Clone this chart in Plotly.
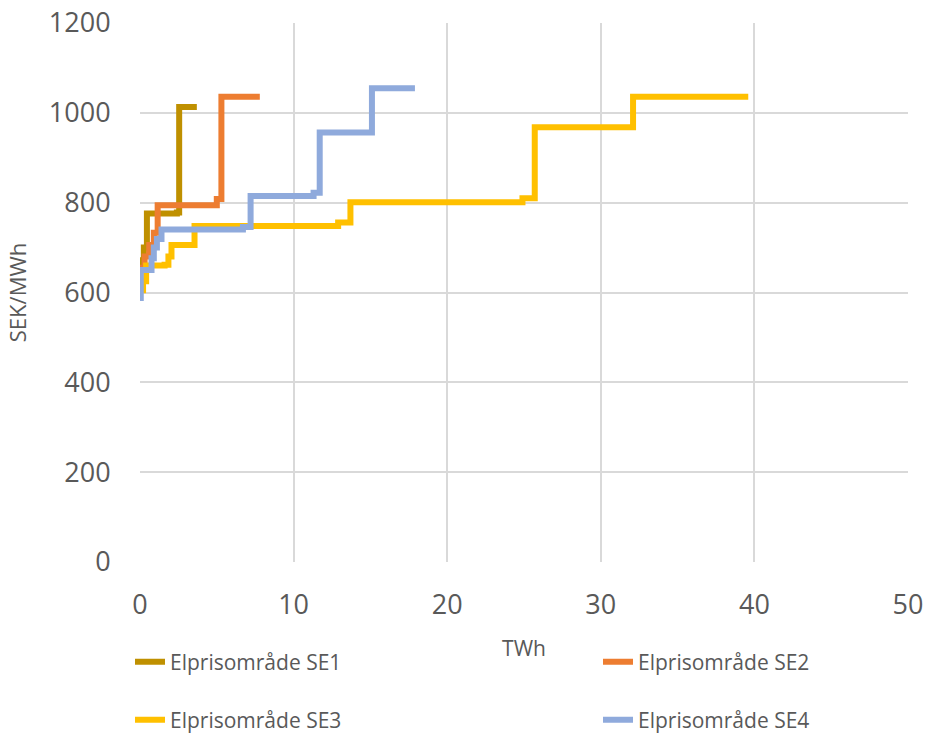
import plotly.graph_objects as go

# Step curves (x = TWh at start of each price step, y = SEK/MWh)
se1_x = [0.0, 0.1, 0.25, 0.45, 2.4, 2.55, 3.7]
se1_y = [650, 672, 700, 776, 778, 1013, 1013]

se2_x = [0.0, 0.3, 0.6, 0.9, 1.15, 5.0, 5.3, 7.8]
se2_y = [655, 680, 706, 733, 794, 808, 1036, 1036]

se3_x = [0.1, 0.2, 0.4, 1.6, 1.85, 2.05, 3.4, 3.55, 12.9, 13.7, 24.9, 25.7, 32.1, 39.6]
se3_y = [605, 625, 660, 662, 680, 706, 706, 748, 756, 801, 810, 968, 1036, 1036]

se4_x = [0.0, 0.05, 0.75, 0.9, 1.1, 1.4, 6.7, 7.2, 11.3, 11.7, 15.1, 17.9]
se4_y = [588, 650, 676, 700, 719, 740, 746, 815, 822, 956, 1055, 1055]

names = ["Elprisområde SE1", "Elprisområde SE2", "Elprisområde SE3", "Elprisområde SE4"]
colors = ["#BF9000", "#ED7D31", "#FFC000", "#8FAADC"]

x_ticks = [0, 10, 20, 30, 40, 50]
y_ticks = [0, 200, 400, 600, 800, 1000, 1200]

FONT = "Open Sans"
fig = go.Figure()
series = [(se1_x, se1_y), (se2_x, se2_y), (se3_x, se3_y), (se4_x, se4_y)]
legends = ["legend", "legend2", "legend3", "legend4"]
for (xs, ys), nm, c, lg in zip(series, names, colors, legends):
    fig.add_trace(go.Scatter(x=xs, y=ys, mode="lines", name=nm, line=dict(color=c, width=6, shape="hv"),
                             legend=lg))

# body margin removed via post_script, so figure coords == page coords
FIG_W, FIG_H = 926, 733
PLOT_L, PLOT_R, PLOT_T, PLOT_B = 140, 908, 23, 562
W = PLOT_R - PLOT_L
H = PLOT_B - PLOT_T
def px(p):
    return (p - PLOT_L) / W
def py(p):
    return (PLOT_B - p) / H

legend_common = dict(orientation="h",
                     font=dict(family=FONT, size=21, color="#595959"),
                     xanchor="left", yanchor="middle", bgcolor="rgba(0,0,0,0)")

fig.update_layout(
    width=FIG_W, height=FIG_H,
    margin=dict(l=PLOT_L, r=FIG_W - PLOT_R, t=PLOT_T, b=FIG_H - PLOT_B, autoexpand=False),
    paper_bgcolor="white", plot_bgcolor="white",
    font=dict(family=FONT, color="#595959"),
    showlegend=True,
    legend=dict(x=px(130), y=py(662), **legend_common),
    legend2=dict(x=px(598), y=py(662), **legend_common),
    legend3=dict(x=px(130), y=py(720), **legend_common),
    legend4=dict(x=px(598), y=py(720), **legend_common),
    xaxis=dict(range=[0, 50], tickvals=x_ticks, showgrid=True, gridcolor="#D9D9D9", gridwidth=1.5,
               zeroline=False, showline=False, ticks="outside", ticklen=19, tickcolor="rgba(0,0,0,0)",
               automargin=False, ticklabeloverflow="allow",
               tickfont=dict(family=FONT, size=27, color="#595959"),
               title=dict(text="TWh", font=dict(family=FONT, size=21, color="#595959"), standoff=19)),
    yaxis=dict(range=[0, 1200], tickvals=y_ticks, showgrid=True, gridcolor="#D9D9D9", gridwidth=1.5,
               zeroline=False, showline=False, ticks="outside", ticklen=23, tickcolor="rgba(0,0,0,0)",
               automargin=False, ticklabeloverflow="allow",
               tickfont=dict(family=FONT, size=27, color="#595959"),
               title=dict(text="SEK/MWh", font=dict(family=FONT, size=22, color="#595959"), standoff=16)),
)

fig.write_html("out.html", config={"displayModeBar": False},
               post_script="document.body.style.margin='0';document.body.style.overflow='hidden';")
